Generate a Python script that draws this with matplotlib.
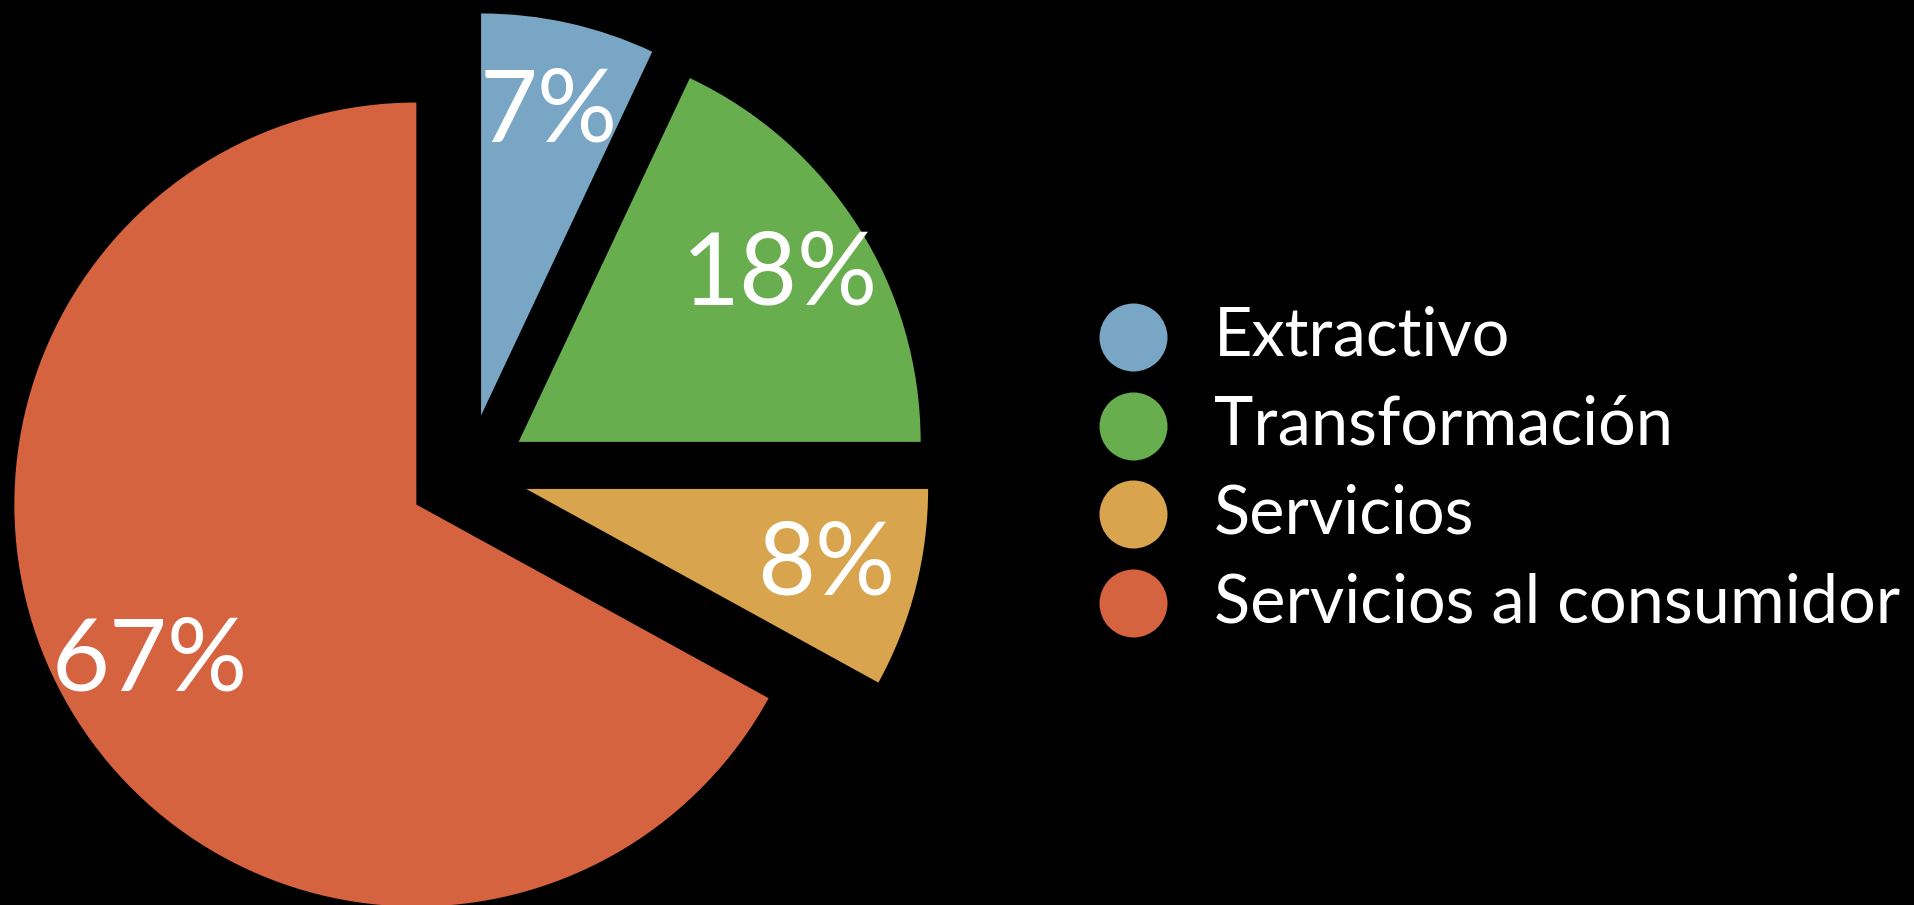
import matplotlib.pyplot as plt

# sector shares (%)
sectors = ['Extractivo', 'Transformación', 'Servicios', 'Servicios al consumidor']
shares = [7, 18, 8, 67]
colors = ['#78A6C4', '#69AE4E', '#D9A44E', '#D5633F']

plt.rcParams['font.family'] = ['Lato', 'DejaVu Sans']

W, H = 1914, 905
fig = plt.figure(figsize=(W / 100, H / 100), dpi=100, facecolor='black')
ax = fig.add_axes([0, 0, 1, 1])
ax.set_facecolor('black')

# pie in pixel units: centre (468, 474 from top), radius 402, explode 60 px
wedges, texts, autotexts = ax.pie(
    shares, colors=colors, startangle=90, counterclock=False,
    center=(468, H - 474), radius=402, explode=[60] * len(shares),
    autopct='%.0f%%', pctdistance=0.77,
    textprops=dict(color='white', fontsize=72),
    wedgeprops=dict(linewidth=0),
)

# legend drawn by hand
for i, (name, c) in enumerate(zip(sectors, colors)):
    y = H - (337 + i * 88.7)
    ax.scatter([1133], [y], s=(68 * 0.72) ** 2, color=c, linewidths=0)
    ax.text(1214, y, name, color='white', fontsize=48, va='center', ha='left')

ax.set_xlim(0, W)
ax.set_ylim(0, H)
ax.set_aspect('equal')
ax.axis('off')

fig.savefig('out.png', dpi=100, facecolor='black')
